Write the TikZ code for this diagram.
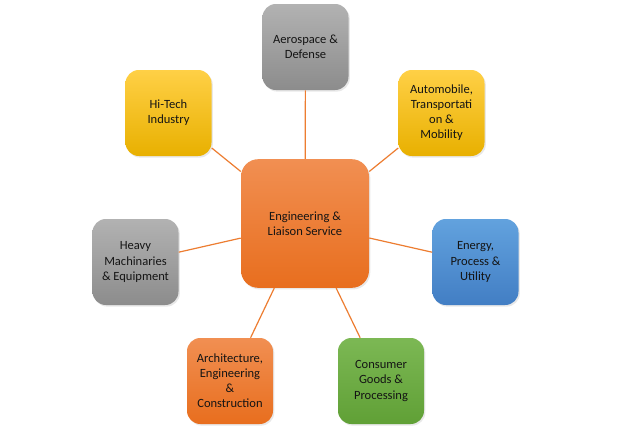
\documentclass[tikz,border=0pt]{standalone}
\usepackage{fontspec}
\setmainfont{Carlito}
\usetikzlibrary{shadows}
\definecolor{linec}{RGB}{237,125,49}
\definecolor{grayT}{RGB}{178,178,178}
\definecolor{grayB}{RGB}{140,140,140}
\definecolor{yelT}{RGB}{255,208,70}
\definecolor{yelB}{RGB}{232,176,0}
\definecolor{orT}{RGB}{241,143,82}
\definecolor{orB}{RGB}{232,110,30}
\definecolor{bluT}{RGB}{98,162,222}
\definecolor{bluB}{RGB}{66,126,196}
\definecolor{grnT}{RGB}{124,184,84}
\definecolor{grnB}{RGB}{96,160,54}
\definecolor{txt}{RGB}{20,20,20}
\begin{document}
\begin{tikzpicture}[x=0.75pt,y=-0.75pt,
  boxbase/.style={rounded corners=10pt, align=center, text=txt,
    font=\fontsize{9.4}{11.3}\selectfont,
    minimum width=64.5pt, minimum height=64.5pt, inner sep=1pt,
    drop shadow={opacity=0.18, shadow xshift=1pt, shadow yshift=-1.2pt}},
  graybox/.style={boxbase, top color=grayT, bottom color=grayB},
  yelbox/.style={boxbase, top color=yelT, bottom color=yelB},
  orbox/.style={boxbase, top color=orT, bottom color=orB},
  blubox/.style={boxbase, top color=bluT, bottom color=bluB},
  grnbox/.style={boxbase, top color=grnT, bottom color=grnB},
  conn/.style={draw=linec, line width=0.9pt}]
\useasboundingbox (0,0) rectangle (643,432);
\fill[white] (0,0) rectangle (643,432);
\node[orbox, minimum width=96pt, minimum height=96.5pt, rounded corners=13pt] (c) at (305,223.5) {Engineering \&\\Liaison Service};
\node[graybox] (aero) at (305.5,47) {Aerospace \&\\Defense};
\node[yelbox] (hitech) at (168.5,113) {Hi-Tech\\Industry};
\node[yelbox] (auto) at (441.5,113) {Automobile,\\Transportati\\on \&\\Mobility};
\node[graybox] (heavy) at (135.5,262) {Heavy\\Machinaries\\\& Equipment};
\node[blubox] (energy) at (475.5,262) {Energy,\\Process \&\\Utility};
\node[orbox] (arch) at (230,381) {Architecture,\\Engineering\\\&\\Construction};
\node[grnbox] (cons) at (381,381) {Consumer\\Goods \&\\Processing};
\draw[conn] (c) -- (aero);
\draw[conn] (c) -- (hitech);
\draw[conn] (c) -- (auto);
\draw[conn] (c) -- (heavy);
\draw[conn] (c) -- (energy);
\draw[conn] (c) -- (arch);
\draw[conn] (c) -- (cons);
\end{tikzpicture}
\end{document}
